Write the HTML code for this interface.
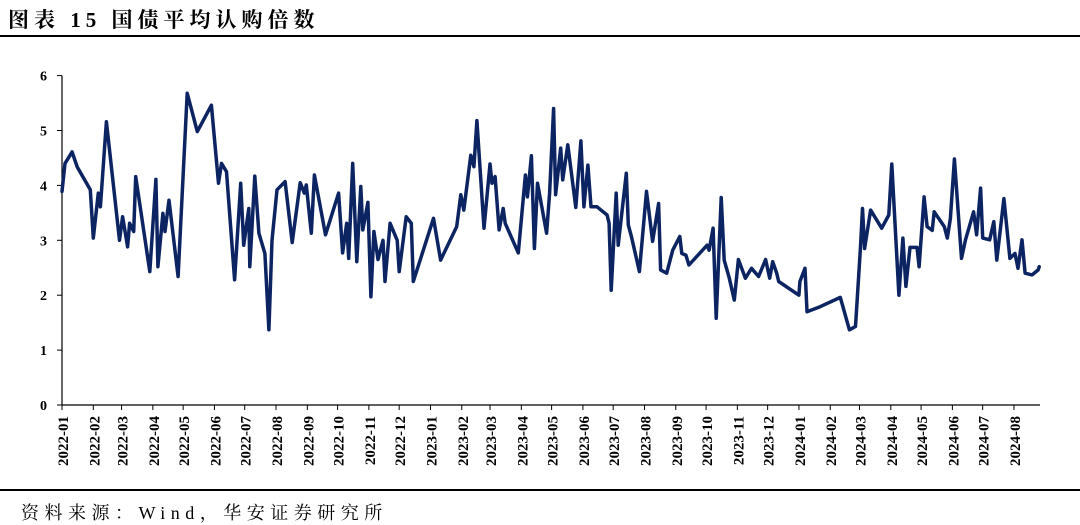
<!DOCTYPE html>
<html><head><meta charset="utf-8"><style>
html,body{margin:0;padding:0;background:#fff;}
body{width:1080px;height:523px;position:relative;overflow:hidden;}
#title{position:absolute;left:8px;top:4px;font:bold 21px "Liberation Serif","Noto Serif CJK SC",serif;letter-spacing:5px;color:#000;white-space:nowrap;}
#top-rule{position:absolute;left:0;top:35px;width:1080px;height:2px;background:#000;}
#bottom-rule{position:absolute;left:0;top:489px;width:1080px;height:2px;background:#000;}
#source{position:absolute;left:21px;top:499px;font:18px "Liberation Serif","Noto Serif CJK SC",serif;letter-spacing:5.5px;color:#000;white-space:nowrap;}
svg{position:absolute;left:0;top:0;}
</style></head><body>
<div id="title">图表 15 国债平均认购倍数</div>
<div id="top-rule"></div>
<svg id="chart" width="1080" height="523"></svg>
<div id="bottom-rule"></div>
<div id="source">资料来源：Wind，华安证券研究所</div>
<script>
const monthLabels = ["2022-01","2022-02","2022-03","2022-04","2022-05","2022-06","2022-07","2022-08","2022-09","2022-10","2022-11","2022-12","2023-01","2023-02","2023-03","2023-04","2023-05","2023-06","2023-07","2023-08","2023-09","2023-10","2023-11","2023-12","2024-01","2024-02","2024-03","2024-04","2024-05","2024-06","2024-07","2024-08"];
const yTicks = [0,1,2,3,4,5,6];
// days since 2022-01-01
const days = [0,3,10,15,28,31,36,38,44,57,60,65,67,71,73,87,93,95,100,102,106,115,124,134,148,155,158,163,171,177,180,185,186,191,195,201,205,208,213,221,228,236,240,242,247,250,261,274,278,282,284,288,292,296,298,303,306,309,313,318,320,325,332,334,341,346,348,368,375,391,395,398,405,408,411,418,424,426,429,433,437,439,452,459,461,465,468,471,480,483,487,489,494,496,501,509,514,517,521,524,530,540,542,544,549,551,559,561,564,572,579,585,591,593,599,605,612,614,618,621,639,641,645,648,653,656,661,666,670,677,683,690,697,701,704,708,710,730,731,736,738,751,771,780,786,791,793,795,801,812,819,822,829,833,836,840,847,849,854,857,862,864,874,877,880,884,891,895,903,906,910,912,919,923,926,933,939,944,947,951,954,961,967,968];
const values = [3.89,4.40,4.61,4.34,3.92,3.04,3.86,3.61,5.16,3.00,3.43,2.88,3.31,3.16,4.16,2.43,4.11,2.52,3.49,3.16,3.73,2.34,5.68,4.98,5.46,4.04,4.40,4.25,2.28,4.04,2.91,3.58,2.52,4.17,3.13,2.76,1.37,3.00,3.92,4.07,2.96,4.05,3.86,4.01,3.13,4.19,3.10,3.86,2.77,3.31,2.67,4.40,2.61,3.98,3.19,3.69,1.97,3.16,2.65,3.00,2.25,3.31,3.00,2.43,3.43,3.31,2.25,3.40,2.64,3.25,3.83,3.55,4.55,4.34,5.18,3.22,4.39,4.04,4.16,3.19,3.58,3.31,2.77,4.19,3.79,4.54,2.85,4.04,3.13,3.86,5.40,3.83,4.68,4.10,4.74,3.60,4.81,3.61,4.37,3.61,3.61,3.46,3.31,2.09,3.86,2.91,4.22,3.28,3.07,2.43,3.89,2.98,3.67,2.46,2.40,2.82,3.07,2.76,2.73,2.55,2.91,2.82,3.22,1.58,3.78,2.64,2.31,1.91,2.65,2.31,2.49,2.34,2.65,2.31,2.61,2.40,2.25,2.00,2.25,2.49,1.70,1.79,1.96,1.37,1.43,2.88,3.58,2.85,3.55,3.22,3.46,4.39,2.00,3.04,2.16,2.87,2.87,2.52,3.79,3.25,3.18,3.52,3.25,3.04,3.40,4.48,2.67,3.01,3.52,3.10,3.95,3.04,3.01,3.34,2.64,3.76,2.67,2.76,2.49,3.01,2.40,2.37,2.46,2.52];
const monthStartDays = [0,31,59,90,120,151,181,212,243,273,304,334,365,396,424,455,485,516,546,577,608,638,669,699,730,761,790,821,851,882,912,943];

const NS = "http://www.w3.org/2000/svg";
const svg = document.getElementById('chart');
const X0 = 62, PX_PER_DAY = 1.0095, Y0 = 405, PX_PER_UNIT = 54.9, XEND = 1040;
const xScale = d => X0 + d * PX_PER_DAY;
const yScale = v => Y0 - v * PX_PER_UNIT;
function mk(tag, attrs){const e=document.createElementNS(NS,tag);for(const k in attrs)e.setAttribute(k,attrs[k]);svg.appendChild(e);return e;}

const yAxis = mk('line',{x1:X0,y1:yScale(6),x2:X0,y2:Y0,stroke:'#000','stroke-width':1.2});


const xAxis = mk('line',{x1:X0,y1:Y0,x2:XEND,y2:Y0,stroke:'#000','stroke-width':1.2});



yTicks.forEach(v=>{
  const y=yScale(v);
  const t=mk('line',{x1:X0-5,y1:y,x2:X0,y2:y,stroke:'#000','stroke-width':1});
  
  
  const l=mk('text',{x:47,y:y+5,'text-anchor':'end','font-family':'Liberation Serif, serif','font-weight':'bold','font-size':14,fill:'#000'});
  l.textContent=v;
  
  
});

monthLabels.forEach((m,i)=>{
  const x=xScale(monthStartDays[i]);
  const t=mk('line',{x1:x,y1:Y0,x2:x,y2:Y0+5,stroke:'#000','stroke-width':1});
  
  
  const l=mk('text',{x:0,y:0,'text-anchor':'end','font-family':'Liberation Serif, serif','font-weight':'bold','font-size':15,fill:'#000',transform:`translate(${x+6},416) rotate(-90)`});
  l.textContent=m;
  
  
});

let d='';
days.forEach((dd,i)=>{d+=(i?'L':'M')+xScale(dd).toFixed(1)+','+yScale(values[i]).toFixed(1);});
const path=mk('path',{d:d,fill:'none',stroke:'#0c2461','stroke-width':3.5,'stroke-linejoin':'round','stroke-linecap':'round'});


</script>
</body></html>
